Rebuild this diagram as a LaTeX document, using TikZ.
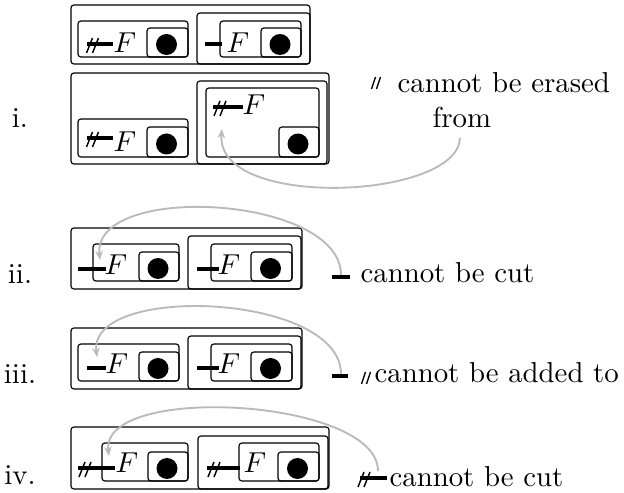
\documentclass[tikz,border=0pt]{standalone}
\usetikzlibrary{arrows.meta}
\tikzset{
  box/.style={draw, line width=0.4pt, rounded corners=1pt},
  thickbar/.style={line width=1.05pt},
  slashstroke/.style={line width=0.5pt},
  thinslash/.style={line width=0.45pt},
  conn/.style={draw=black!27, line width=0.65pt, -{Stealth[length=3.2pt,width=2.6pt]}},
  txt/.style={inner sep=0pt, anchor=base west},
  eff/.style={inner sep=0pt, anchor=base},
}
% box with a filled dot in it
\newcommand\dotbx[4]{%
  \draw[box] (#1,#2) rectangle (#3,#4);
  \fill ({(#1+#3)/2-1},{(#2+#4)/2+2}) circle[radius=10.5];}
% thick horizontal bar
\newcommand\barline[3]{\draw[thickbar] (#1,#3) -- (#2,#3);}
% double slash centred at a point
\newcommand\dslash[2]{%
  \draw[slashstroke] ({#1-6},{#2+9}) -- ({#1},{#2-6})
            ({#1},{#2+9}) -- ({#1+6},{#2-6});}
\newcommand\smallslash[2]{%
  \draw[thinslash] ({#1-4.5},{#2+6}) -- ({#1-0.5},{#2-6})
                   ({#1+0.5},{#2+6}) -- ({#1+4.5},{#2-6});}
\begin{document}
\begin{tikzpicture}[x=0.347pt, y=-0.347pt]
\useasboundingbox (0,0) rectangle (624,493);

% ---------- i. ----------
\node[eff] (li) at (20,128) {i.};
% upper sheet
\draw[box] (71,5) rectangle (310,64);
\draw[box] (78,21) rectangle (188,57);
\dotbx{147}{28}{188}{57}
\dslash{92.5}{44} \barline{87}{113}{44}
\node[eff] (f1a) at (125,53) {$F$};
\draw[box] (197,13) rectangle (310,64);
\draw[box] (220,21) rectangle (301,57);
\dotbx{261}{28}{301}{57}
\barline{205}{222}{44}
\node[eff] (f1b) at (238,53) {$F$};
% lower sheet
\draw[box] (71,73) rectangle (329,164);
\draw[box] (78,119) rectangle (188,157);
\dotbx{147}{127}{188}{157}
\dslash{92.5}{138} \barline{87}{113}{138}
\node[eff] (f1c) at (125,152) {$F$};
\draw[box] (197,81) rectangle (327,164);
\draw[box] (206,88) rectangle (319,157);
\dotbx{279}{127}{319}{157}
\dslash{220}{107} \barline{213}{243}{107}
\node[eff] (f1d) at (254,115) {$F$};
% note
\smallslash{376}{83}
\node[txt] (n1) at (397,93) {cannot be erased};
\node[txt] (n1b) at (432,128) {from};
\coordinate (s1) at (460,138);
\coordinate (t1) at (222,129);
\draw[conn] (s1) .. controls (458,200) and (215,210) .. (t1);

% ---------- ii. ----------
\node[eff] (lii) at (20,284) {ii.};
\draw[box] (71,228) rectangle (302,289);
\draw[box] (93,244) rectangle (179,281);
\dotbx{139}{252}{179}{281}
\barline{78}{106}{269}
\node[eff] (f2a) at (116,275) {$F$};
\draw[box] (188,236) rectangle (301,289);
\draw[box] (211,244) rectangle (292,281);
\dotbx{251}{252}{292}{281}
\barline{197}{219}{269}
\node[eff] (f2b) at (229,275) {$F$};
\barline{332}{350}{277}
\node[txt] (n2) at (360,283) {cannot be cut};
\coordinate (s2) at (341,275);
\coordinate (t2) at (100,260);
\draw[conn] (s2) .. controls (341,195) and (92,182) .. (t2);

% ---------- iii. ----------
\node[eff] (liii) at (20,384) {iii.};
\draw[box] (71,328) rectangle (302,389);
\draw[box] (78,344) rectangle (179,381);
\dotbx{139}{352}{179}{381}
\barline{87}{106}{368}
\node[eff] (f3a) at (117,374) {$F$};
\draw[box] (188,336) rectangle (301,389);
\draw[box] (211,344) rectangle (292,381);
\dotbx{251}{352}{292}{381}
\barline{197}{219}{368}
\node[eff] (f3b) at (229,374) {$F$};
\barline{332}{348}{376}
\smallslash{366}{378}
\node[txt] (n3) at (374,383) {cannot be added to};
\coordinate (s3) at (341,374);
\coordinate (t3) at (97,357);
\draw[conn] (s3) .. controls (341,293) and (88,283) .. (t3);

% ---------- iv. ----------
\node[eff] (liv) at (20,485) {iv.};
\draw[box] (71,427) rectangle (329,489);
\draw[box] (102,443) rectangle (188,481);
\dotbx{148}{452}{188}{481}
\dslash{85}{468} \barline{78}{115}{468}
\node[eff] (f4a) at (127,473) {$F$};
\draw[box] (198,436) rectangle (328,489);
\draw[box] (239,443) rectangle (319,481);
\dotbx{278}{452}{319}{481}
\dslash{214}{468} \barline{207}{240}{468}
\node[eff] (f4b) at (255,473) {$F$};
\dslash{364}{478} \barline{360}{387}{478}
\node[txt] (n4) at (389,487) {cannot be cut};
\coordinate (s4) at (378,471);
\coordinate (t4) at (109,456);
\draw[conn] (s4) .. controls (378,398) and (100,383) .. (t4);
\end{tikzpicture}
\end{document}
